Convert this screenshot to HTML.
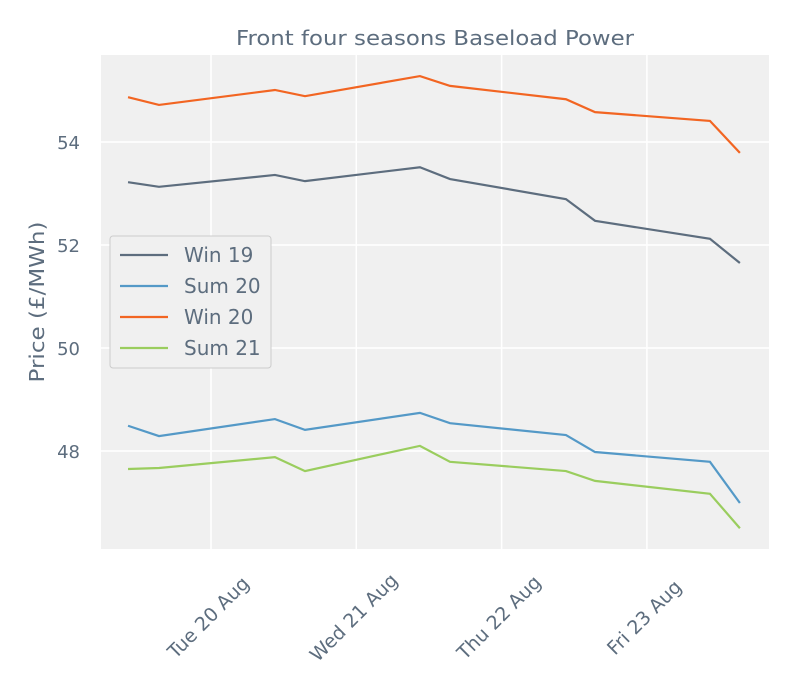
<!DOCTYPE html>
<html><head><meta charset="utf-8"><style>
body{margin:0;background:#fff;}
svg{display:block;font-family:"DejaVu Sans","Liberation Sans",sans-serif;}
text{fill:#5d6d7e;}
</style></head><body>
<svg width="800" height="700">
<rect x="101" y="55" width="668" height="494" fill="#f0f0f0"/>
<g id="grid"></g>
<g id="series"></g>
<g id="axes"></g>
<text x="435" y="45" text-anchor="middle" font-size="20" textLength="398" lengthAdjust="spacingAndGlyphs">Front four seasons Baseload Power</text>
<text transform="translate(44,302) rotate(-90)" text-anchor="middle" font-size="20" textLength="161" lengthAdjust="spacingAndGlyphs">Price (£/MWh)</text>
<g>
<rect x="110" y="236" width="161" height="132" rx="3" fill="#f0f0f0" stroke="#ccc"/>
<g id="legend"></g>
</g>
</svg>
<script>
const times=[0.429,0.642,1.44,1.647,2.438,2.645,3.443,3.643,4.434,4.64];
const seriesNames=["Win 19","Sum 20","Win 20","Sum 21"];
const win19=[53.22,53.13,53.36,53.24,53.51,53.28,52.89,52.47,52.12,51.65];
const sum20=[48.49,48.29,48.62,48.41,48.74,48.54,48.31,47.98,47.79,46.99];
const win20=[54.87,54.72,55.01,54.89,55.28,55.09,54.83,54.58,54.41,53.79];
const sum21=[47.65,47.67,47.88,47.61,48.10,47.79,47.61,47.42,47.17,46.50];
const colors=["#5d6d7e","#5499c7","#f26522","#9acd5e"];
const yTicks=[48,50,52,54];
const xTickVals=[1,2,3,4];
const xTickLabels=["Tue 20 Aug","Wed 21 Aug","Thu 22 Aug","Fri 23 Aug"];
const NS="http://www.w3.org/2000/svg";
function xs(d){return 211+(d-1)*145.3;}
function ys(v){return 142-(v-54)*51.5;}
function mk(tag,attrs,parent){const e=document.createElementNS(NS,tag);for(const k in attrs)e.setAttribute(k,attrs[k]);document.getElementById(parent).appendChild(e);return e;}
yTicks.forEach(v=>{
 const l=mk("line",{x1:101,x2:769,y1:ys(v),y2:ys(v),stroke:"#fff","stroke-width":1.5},"grid");
 
 
 const t=mk("text",{x:80,y:ys(v)+7,"text-anchor":"end","font-size":18},"axes");
 t.textContent=v;
 
 
});
xTickVals.forEach((d,i)=>{
 const l=mk("line",{x1:xs(d),x2:xs(d),y1:55,y2:549,stroke:"#fff","stroke-width":1.5},"grid");
 
 
 const t=mk("text",{transform:`translate(${xs(d)+2},622) rotate(-45)`,"text-anchor":"middle","font-size":19},"axes");
 t.textContent=xTickLabels[i];
 
 
});
[win19,sum20,win20,sum21].forEach((vals,si)=>{
 const p=mk("polyline",{points:vals.map((v,i)=>xs(times[i])+","+ys(v)).join(" "),fill:"none",stroke:colors[si],"stroke-width":2.2},"series");
 
 
 const ly=255+si*31;
 const ll=mk("line",{x1:120,x2:168,y1:ly,y2:ly,stroke:colors[si],"stroke-width":2.2},"legend");
 
 
 const lt=mk("text",{x:184,y:ly+7,"font-size":20},"legend");
 lt.textContent=seriesNames[si];
 
 
});
</script>
</body></html>
